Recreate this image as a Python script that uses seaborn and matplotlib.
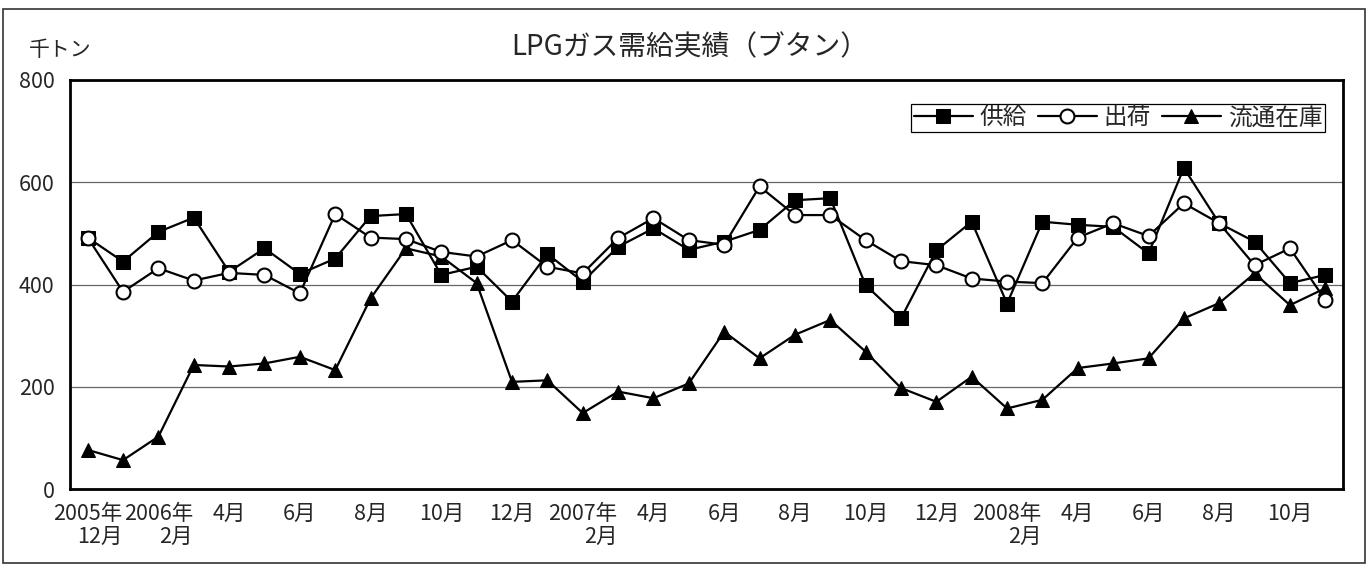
import matplotlib
matplotlib.use("Agg")
import matplotlib.pyplot as plt
import matplotlib.patches as patches
import numpy as np
import pandas as pd
import seaborn as sns

# 2005年12月 .. 2008年11月 (36 months)
months = ["2005年\n12月", "1月", "2006年\n2月", "3月", "4月", "5月", "6月", "7月", "8月", "9月",
          "10月", "11月", "12月", "1月", "2007年\n2月", "3月", "4月", "5月", "6月", "7月",
          "8月", "9月", "10月", "11月", "12月", "1月", "2008年\n2月", "3月", "4月", "5月",
          "6月", "7月", "8月", "9月", "10月", "11月"]

supply = [492, 445, 503, 531, 425, 471, 421, 451, 534, 538, 419, 435,
          367, 460, 406, 474, 510, 468, 484, 507, 565, 569, 399, 334,
          467, 523, 363, 523, 517, 513, 461, 628, 520, 484, 403, 419]

shipment = [492, 386, 432, 408, 423, 419, 383, 538, 492, 489, 464, 455,
            487, 435, 422, 491, 530, 487, 478, 592, 536, 536, 487, 446,
            438, 412, 406, 403, 492, 520, 495, 559, 520, 438, 471, 370]

stock = [77, 57, 103, 243, 240, 246, 259, 233, 373, 471, 455, 403,
         210, 213, 149, 191, 178, 207, 308, 256, 302, 331, 269, 198,
         171, 220, 158, 175, 237, 246, 256, 334, 364, 422, 360, 393]

x = np.arange(len(months))
df = pd.DataFrame({"x": x, "supply": supply, "shipment": shipment, "stock": stock})

sns.set_style("white")
plt.rcParams["font.family"] = ["Noto Sans CJK JP", "DejaVu Sans"]

fig = plt.figure(figsize=(13.7, 5.65), dpi=100)
ax = fig.add_axes([70 / 1370, 1 - 489.3 / 565, (1343 - 70) / 1370, (489.3 - 80) / 565])

sns.lineplot(data=df, x="x", y="supply", ax=ax, color="black", linewidth=1.6,
             marker="s", markersize=9.5, markerfacecolor="black", markeredgecolor="black",
             label="供給", zorder=3)
sns.lineplot(data=df, x="x", y="shipment", ax=ax, color="black", linewidth=1.6,
             marker="o", markersize=10, markerfacecolor="white", markeredgecolor="black",
             markeredgewidth=1.5, label="出荷", zorder=4)
sns.lineplot(data=df, x="x", y="stock", ax=ax, color="black", linewidth=1.6,
             marker="^", markersize=10, markerfacecolor="black", markeredgecolor="black",
             label="流通在庫", zorder=3)

ax.set_xlim(-0.5, len(months) - 0.5)
ax.set_ylim(0, 800)
ax.set_yticks([0, 200, 400, 600, 800])
ax.set_yticklabels(["0", "200", "400", "600", "800"], fontsize=15.5)
ax.yaxis.grid(True, color="#666666", linewidth=0.9)
ax.set_axisbelow(True)

# category labels every other month, ticks at category boundaries
ax.set_xticks(x[::2])
ax.set_xticklabels(months[::2], fontsize=15.5, linespacing=1.05, va="top")
ax.set_xticks(np.arange(-0.5, len(months), 1), minor=True)
ax.tick_params(axis="x", which="major", length=0, pad=10)
ax.tick_params(axis="x", which="minor", direction="in", length=7, width=1, color="black")
ax.tick_params(axis="y", which="major", direction="out", length=0, pad=11)
for lab in ax.get_xticklabels():
    lab.set_multialignment("right")

ax.set_xlabel("")
ax.set_ylabel("")
for s in ax.spines.values():
    s.set_visible(True)
    s.set_color("black")
    s.set_linewidth(2)

leg = ax.legend(ncol=3, loc="upper right", bbox_to_anchor=(1324.5 / 1370, 1 - 104 / 565),
                bbox_transform=fig.transFigure, fontsize=17, frameon=True, fancybox=False,
                edgecolor="black", framealpha=1, handlelength=2.5, columnspacing=0.45,
                handletextpad=0.3, borderpad=0.1, borderaxespad=0)
leg.get_frame().set_linewidth(0.9)

fig.text(690 / 1370, 1 - 47 / 565, "LPGガス需給実績（ブタン）", ha="center", va="center", fontsize=20)
fig.text(60 / 1370, 1 - 50 / 565, "千トン", ha="center", va="center", fontsize=15)

fig.patches.append(patches.Rectangle((3 / 1370, 2 / 565), 1362 / 1370, 554 / 565,
                                     transform=fig.transFigure, fill=False,
                                     edgecolor="#333333", linewidth=1.2))

fig.savefig("out.png", dpi=100)
plt.close()
